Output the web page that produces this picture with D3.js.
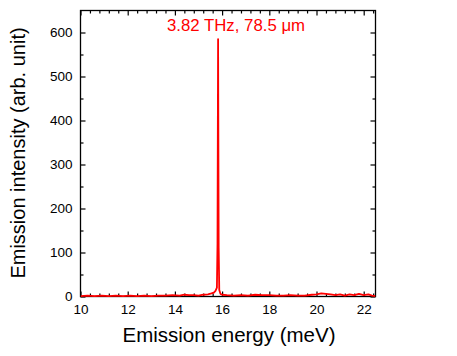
<!DOCTYPE html>
<html><head><meta charset="utf-8">
<script src="https://cdn.jsdelivr.net/npm/d3@7"></script>
<style>body{margin:0;background:#fff}svg{display:block}text{font-family:"Liberation Sans",Arial,sans-serif}</style>
</head><body><svg id="c" width="457" height="356"></svg>
<script>
const energy = [10.0,10.3,10.6,10.9,11.2,11.5,11.8,12.1,12.4,12.7,13.0,13.3,13.6,13.9,14.2,14.4,14.6,14.8,15.0,15.2,15.4,15.55,15.65,15.72,15.78,15.805,15.83,15.855,15.88,15.93,16.0,16.2,16.5,16.8,17.1,17.4,17.7,18.0,18.3,18.6,18.9,19.2,19.5,19.8,20.0,20.2,20.4,20.6,20.8,21.0,21.2,21.4,21.6,21.8,22.0,22.2,22.35,22.5];
const intensity = [1,2,1,2,1,2,1,2,1,2,1,2,2,3,2,4,3,3,2,4,5,7,9,13,20,120,585,110,15,6,4,3,2,3,2,4,3,3,2,2,3,2,2,4,5,7,6,5,3,5,2,5,3,6,3,5,2,1];
const xTicks = [10,12,14,16,18,20,22];
const yTicks = [0,100,200,300,400,500,600];
const annotation = "3.82 THz, 78.5 \u03bcm";
const xTitle = "Emission energy (meV)";
const yTitle = "Emission intensity (arb. unit)";

const L=80.5, T=10.5, R=375.5, B=296.5;
const svg = d3.select("#c");
const x = d3.scaleLinear().domain([10,22.5]).range([L,R]);
const y = d3.scaleLinear().domain([0,650]).range([B,T]);

const xMinor = d3.range(10,22.5001,0.4).map(v=>+v.toFixed(2)).filter(v=>!xTicks.includes(v));
const yMinor = d3.range(50,650,100);

function ax(axisGen, tr, vals, size, labels){
  const g = svg.append("g").attr("transform",tr)
    .call(axisGen.tickValues(vals).tickSizeInner(size).tickSizeOuter(0).tickPadding(4)
      .tickFormat(labels? d3.format("d") : ""));
  g.select(".domain").remove();
  g.selectAll("line").attr("stroke","#000").attr("stroke-width",1.2);
  g.selectAll("text").attr("font-size",13.5).attr("fill","#000");
  return g;
}
ax(d3.axisBottom(x), `translate(0,${B})`, xTicks, -5, true).selectAll("text").attr("dy","1.15em").attr("y",2);
ax(d3.axisBottom(x), `translate(0,${B})`, xMinor, -3, false);
ax(d3.axisTop(x), `translate(0,${T})`, xTicks, -5, false);
ax(d3.axisTop(x), `translate(0,${T})`, xMinor, -3, false);
ax(d3.axisLeft(y), `translate(${L},0)`, yTicks, -5, true).selectAll("text").attr("x",-8);
ax(d3.axisLeft(y), `translate(${L},0)`, yMinor, -3, false);
ax(d3.axisRight(y), `translate(${R},0)`, yTicks, -5, false);
ax(d3.axisRight(y), `translate(${R},0)`, yMinor, -3, false);

svg.append("rect").attr("x",L).attr("y",T).attr("width",R-L).attr("height",B-T)
  .attr("fill","none").attr("stroke","#000").attr("stroke-width",1.3);

svg.append("clipPath").attr("id","cp").append("rect").attr("x",L).attr("y",T).attr("width",R-L).attr("height",B-T+2);
const pts = energy.map((e,i)=>[e,intensity[i]]);
svg.append("path").datum(pts).attr("clip-path","url(#cp)")
  .attr("d", d3.line().x(d=>x(d[0])).y(d=>y(d[1])))
  .attr("fill","none").attr("stroke","#ff0000").attr("stroke-width",1.8).attr("stroke-linejoin","round");

svg.append("text").attr("x",236).attr("y",31).attr("text-anchor","middle")
  .attr("font-size",16.8).attr("fill","#ff0000").text(annotation);

svg.append("text").attr("x",229).attr("y",342).attr("text-anchor","middle")
  .attr("font-size",20.5).attr("fill","#000").text(xTitle);
svg.append("text").attr("transform","translate(25,153) rotate(-90)").attr("text-anchor","middle")
  .attr("font-size",20).attr("fill","#000").text(yTitle);
</script></body></html>
